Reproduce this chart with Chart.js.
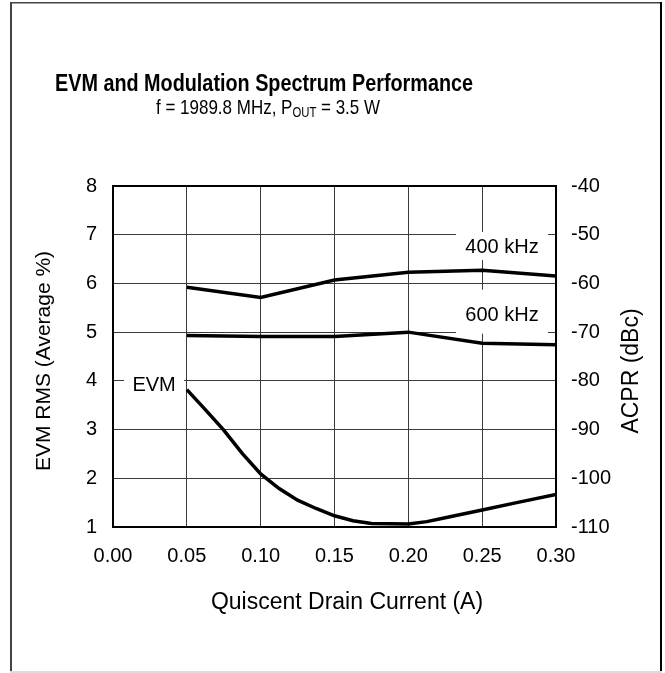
<!DOCTYPE html>
<html>
<head>
<meta charset="utf-8">
<script src="https://cdn.jsdelivr.net/npm/chart.js@4"></script>
<style>
  html, body { margin: 0; padding: 0; background: #fff; }
  canvas { display: block; }
</style>
</head>
<body>
<canvas id="c" width="665" height="673"></canvas>
<script>
// ---- data ----
const xTicks = [0.00, 0.05, 0.10, 0.15, 0.20, 0.25, 0.30];
const acprCurrent = [0.05, 0.10, 0.15, 0.20, 0.25, 0.30];
const acpr400 = [-60.8, -62.9, -59.3, -57.7, -57.3, -58.5];
const acpr600 = [-70.7, -70.9, -70.9, -70.0, -72.3, -72.6];
const evmCurrent = [0.05, 0.0625, 0.075, 0.0875, 0.10, 0.1125, 0.125, 0.1375, 0.15, 0.1625, 0.175, 0.20, 0.2125, 0.225, 0.25, 0.275, 0.30];
const evmValues  = [3.82, 3.41, 2.99, 2.51, 2.09, 1.79, 1.55, 1.38, 1.23, 1.13, 1.07, 1.06, 1.11, 1.19, 1.35, 1.51, 1.67];
const leftTicks = [1, 2, 3, 4, 5, 6, 7, 8];
const rightTicks = [-110, -100, -90, -80, -70, -60, -50, -40];

const FONT = "'Liberation Sans', Arial, Helvetica, sans-serif";

function pts(xs, ys) { return xs.map((x, i) => ({ x: x, y: ys[i] })); }

// draw a run of text pieces, horizontally condensed to a target width, centred on cx
function drawRun(ctx, parts, cx, y, targetW) {
  let total = 0;
  parts.forEach(p => { ctx.font = p.font; p.w = ctx.measureText(p.t).width; total += p.w; });
  const k = targetW / total;
  ctx.save();
  ctx.translate(cx - targetW / 2, 0);
  ctx.scale(k, 1);
  ctx.textAlign = 'left';
  ctx.textBaseline = 'middle';
  let x = 0;
  parts.forEach(p => { ctx.font = p.font; ctx.fillText(p.t, x, y + (p.dy || 0)); x += p.w; });
  ctx.restore();
}

const decor = {
  id: 'decor',
  beforeDatasetsDraw(chart) {
    const ctx = chart.ctx, sx = chart.scales.x, sy = chart.scales.y;
    const labels = [
      { t: 'EVM', x: 0.0278, y: 3.915, w: 60, up: 12, h: 24 },
      { t: '400 kHz', x: 0.2634, y: 6.748, w: 92, up: 15, h: 28 },
      { t: '600 kHz', x: 0.2634, y: 5.337, w: 92, up: 26, h: 44 }
    ];
    ctx.save();
    labels.forEach(l => {
      const cx = sx.getPixelForValue(l.x), cy = sy.getPixelForValue(l.y);
      ctx.fillStyle = '#fff';
      ctx.fillRect(cx - l.w / 2, cy - l.up, l.w, l.h);
      ctx.fillStyle = '#000';
      ctx.font = '20px ' + FONT;
      ctx.textAlign = 'center';
      ctx.textBaseline = 'middle';
      ctx.fillText(l.t, cx, cy);
    });
    ctx.restore();
  },
  afterDatasetsDraw(chart) {
    const ctx = chart.ctx, a = chart.chartArea;
    ctx.save();
    ctx.strokeStyle = '#000';
    ctx.lineWidth = 2;
    ctx.strokeRect(a.left, a.top, a.right - a.left, a.bottom - a.top);
    ctx.restore();
  },
  afterDraw(chart) {
    const ctx = chart.ctx;
    ctx.save();
    // outer frame
    ctx.fillStyle = '#444';
    ctx.fillRect(10, 2, 652, 1.5);
    ctx.fillRect(10, 2, 2, 671);
    ctx.fillStyle = '#000';
    ctx.fillRect(660, 2, 2, 671);
    ctx.fillStyle = '#ddd';
    ctx.fillRect(10, 671, 652, 2);

    ctx.fillStyle = '#000';
    // title (condensed face in the reference)
    drawRun(ctx, [{ t: 'EVM and Modulation Spectrum Performance', font: 'bold 24px ' + FONT }], 264, 84, 418);
    // subtitle with subscript
    drawRun(ctx, [
      { t: 'f = 1989.8 MHz, P', font: '21px ' + FONT },
      { t: 'OUT', font: '14px ' + FONT, dy: 5 },
      { t: ' = 3.5 W', font: '21px ' + FONT }
    ], 268, 108, 224);

    ctx.textBaseline = 'middle';
    ctx.textAlign = 'center';
    // x axis title
    ctx.font = '23px ' + FONT;
    ctx.fillText('Quiscent Drain Current (A)', 347, 603);
    // left axis title
    ctx.save();
    ctx.font = '21px ' + FONT;
    ctx.translate(44, 361);
    ctx.rotate(-Math.PI / 2);
    ctx.fillText('EVM RMS (Average %)', 0, 0);
    ctx.restore();
    // right axis title
    ctx.save();
    ctx.font = '23px ' + FONT;
    ctx.translate(632, 371);
    ctx.rotate(-Math.PI / 2);
    ctx.fillText('ACPR (dBc)', 0, 0);
    ctx.restore();
    ctx.restore();
  }
};

const lineStyle = { borderColor: '#000', borderWidth: 3.5, pointRadius: 0, tension: 0, fill: false };

new Chart(document.getElementById('c'), {
  type: 'line',
  data: {
    datasets: [
      Object.assign({ label: 'EVM', data: pts(evmCurrent, evmValues), yAxisID: 'y' }, lineStyle),
      Object.assign({ label: '400 kHz', data: pts(acprCurrent, acpr400), yAxisID: 'y1' }, lineStyle),
      Object.assign({ label: '600 kHz', data: pts(acprCurrent, acpr600), yAxisID: 'y1' }, lineStyle)
    ]
  },
  options: {
    responsive: false,
    animation: false,
    devicePixelRatio: 1,
    layout: { padding: { top: 186, left: 0, right: 0, bottom: 0 } },
    plugins: { legend: { display: false }, tooltip: { enabled: false }, title: { display: false } },
    scales: {
      x: {
        type: 'linear', min: 0, max: 0.3,
        afterBuildTicks: s => { s.ticks = xTicks.map(v => ({ value: v })); },
        ticks: { callback: v => Number(v).toFixed(2), font: { size: 20, family: FONT }, color: '#000', padding: 17, maxRotation: 0, autoSkip: false },
        grid: { color: '#3a3a3a', lineWidth: 1, drawTicks: false },
        border: { display: true, color: '#000', width: 2 },
        afterFit: s => { s.height = 146; }
      },
      y: {
        position: 'left', min: 1, max: 8,
        afterBuildTicks: s => { s.ticks = leftTicks.map(v => ({ value: v })); },
        ticks: { font: { size: 20, family: FONT }, color: '#000', padding: 16 },
        grid: { color: '#3a3a3a', lineWidth: 1, drawTicks: false },
        border: { display: true, color: '#000', width: 2 },
        afterFit: s => { s.width = 113; }
      },
      y1: {
        position: 'right', min: -110, max: -40,
        afterBuildTicks: s => { s.ticks = rightTicks.map(v => ({ value: v })); },
        ticks: { font: { size: 20, family: FONT }, color: '#000', padding: 15 },
        grid: { drawOnChartArea: false, drawTicks: false },
        border: { display: true, color: '#000', width: 2 },
        afterFit: s => { s.width = 109; }
      }
    }
  },
  plugins: [decor]
});
</script>
</body>
</html>
